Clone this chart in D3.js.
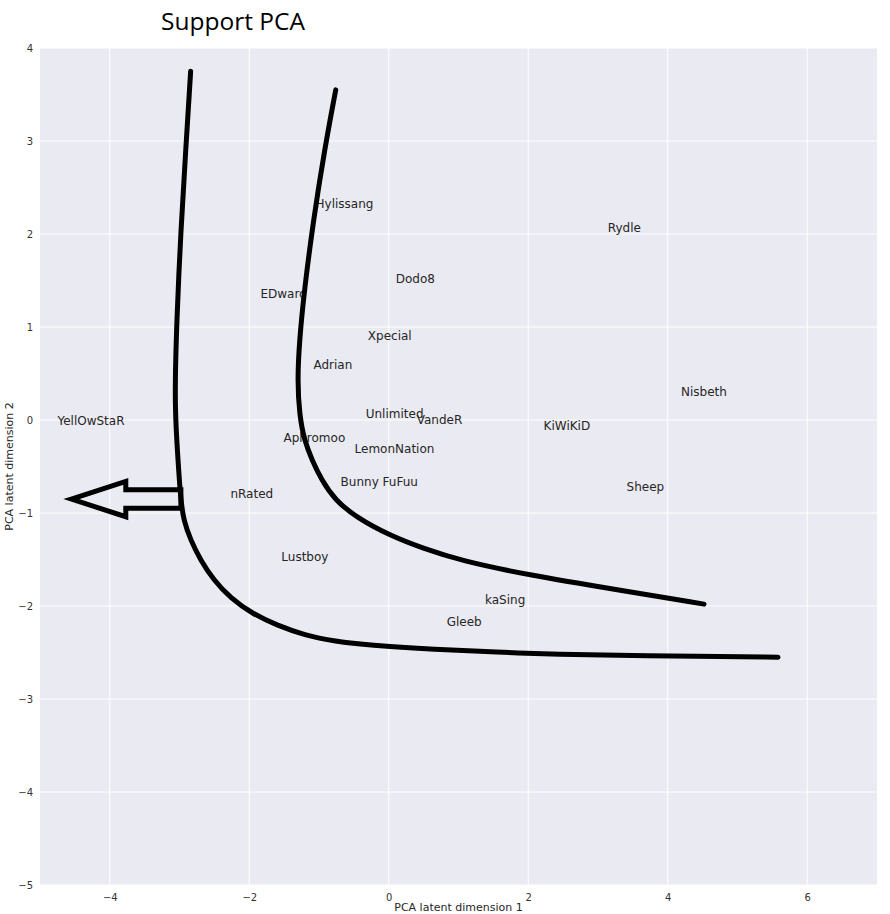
<!DOCTYPE html>
<html><head><meta charset="utf-8">
<script src="https://cdn.jsdelivr.net/npm/d3@7"></script>
<style>body{margin:0;background:#fff}</style>
</head><body>
<svg id="c" width="890" height="914"></svg>
<script>
const players = ["YellOwStaR","Hylissang","Rydle","Dodo8","EDward","Xpecial","Adrian","Nisbeth","Unlimited","VandeR","KiWiKiD","Aphromoo","LemonNation","Bunny FuFuu","Sheep","nRated","Lustboy","kaSing","Gleeb"];
const pcaX = [-4.75,-1.05,3.14,0.10,-1.84,-0.30,-1.08,4.19,-0.33,0.40,2.22,-1.51,-0.49,-0.69,3.41,-2.27,-1.54,1.38,0.83];
const pcaY = [-0.05,2.28,2.02,1.47,1.31,0.86,0.55,0.26,0.02,-0.04,-0.11,-0.24,-0.36,-0.71,-0.76,-0.84,-1.52,-1.98,-2.21];
const xTicks = [-4,-2,0,2,4,6];
const yTicks = [-5,-4,-3,-2,-1,0,1,2,3,4];
// hand-drawn annotation strokes (data coordinates)
const outerCurve = [[-2.84,3.75],[-2.91,2.91],[-2.98,2.05],[-3.04,1.08],[-3.07,0.22],[-3.04,-0.22],[-2.984,-0.861],[-2.941,-1.076],[-2.841,-1.292],[-2.697,-1.507],[-2.511,-1.722],[-2.267,-1.916],[-1.966,-2.078],[-1.607,-2.207],[-1.205,-2.314],[-0.775,-2.379],[-0.273,-2.422],[0.588,-2.465],[1.879,-2.508],[3.027,-2.530],[4.462,-2.540],[5.581,-2.551]];
const innerCurve = [[-0.76,3.55],[-0.92,2.91],[-1.08,2.15],[-1.21,1.40],[-1.28,0.86],[-1.31,0.43],[-1.28,0.05],[-1.21,-0.22],[-1.10,-0.43],[-0.96,-0.65],[-0.77,-0.86],[-0.46,-1.05],[0.01,-1.24],[0.49,-1.38],[1.02,-1.51],[2.02,-1.67],[3.31,-1.83],[4.52,-1.98]];
const arrowShape = [[-4.55,-0.85],[-3.77,-0.66],[-3.77,-0.75],[-2.98,-0.75],[-2.98,-0.95],[-3.77,-0.95],[-3.77,-1.04]];

const svg = d3.select("#c");
const L=40, R=877, T=48, B=885;
const x = d3.scaleLinear().domain([-5,7]).range([L,R]);
const y = d3.scaleLinear().domain([-5,4]).range([B,T]);

svg.append("rect").attr("x",L).attr("y",T).attr("width",R-L).attr("height",B-T).attr("fill","#EAEAF2");
const g = svg.append("g");
g.selectAll(".gx").data(xTicks).join("line").attr("x1",d=>x(d)).attr("x2",d=>x(d)).attr("y1",T).attr("y2",B).attr("stroke","#fff").attr("stroke-width",1);
g.selectAll(".gy").data(yTicks).join("line").attr("y1",d=>y(d)).attr("y2",d=>y(d)).attr("x1",L).attr("x2",R).attr("stroke","#fff").attr("stroke-width",1);

const fmt = d => d<0 ? "\u2212"+Math.abs(d) : ""+d;
const xa = svg.append("g").attr("transform",`translate(0,${B})`).call(d3.axisBottom(x).tickValues(xTicks).tickSize(0).tickPadding(9).tickFormat(fmt));
const ya = svg.append("g").attr("transform",`translate(${L},0)`).call(d3.axisLeft(y).tickValues(yTicks).tickSize(0).tickPadding(7).tickFormat(fmt));
[xa,ya].forEach(a=>{a.select(".domain").remove();a.selectAll("text").attr("font-family","DejaVu Sans").attr("font-size",10).attr("fill","#333");});

svg.append("text").attr("x",(L+R)/2).attr("y",911).attr("text-anchor","middle").attr("font-family","DejaVu Sans").attr("font-size",11).attr("fill","#262626").text("PCA latent dimension 1");
svg.append("text").attr("transform",`translate(13,${(T+B)/2}) rotate(-90)`).attr("text-anchor","middle").attr("font-family","DejaVu Sans").attr("font-size",11).attr("fill","#262626").text("PCA latent dimension 2");

svg.append("text").attr("x",161).attr("y",30).attr("font-family","Open Sans").attr("font-size",24.5).attr("fill","#000").text("Support PCA");

g.selectAll(".lab").data(players).join("text").attr("x",(d,i)=>x(pcaX[i])).attr("y",(d,i)=>y(pcaY[i])).attr("font-family","DejaVu Sans").attr("font-size",12).attr("fill","#262626").text(d=>d);

const line = d3.line().x(d=>x(d[0])).y(d=>y(d[1])).curve(d3.curveBasis);
[outerCurve, innerCurve].forEach(c=>svg.append("path").attr("d",line(c)).attr("fill","none").attr("stroke","#000").attr("stroke-width",5).attr("stroke-linecap","round").attr("stroke-linejoin","round"));
svg.append("path").attr("d",d3.line().x(d=>x(d[0])).y(d=>y(d[1]))(arrowShape)+"Z").attr("fill","none").attr("stroke","#000").attr("stroke-width",5).attr("stroke-linejoin","miter");
</script>
</body></html>
